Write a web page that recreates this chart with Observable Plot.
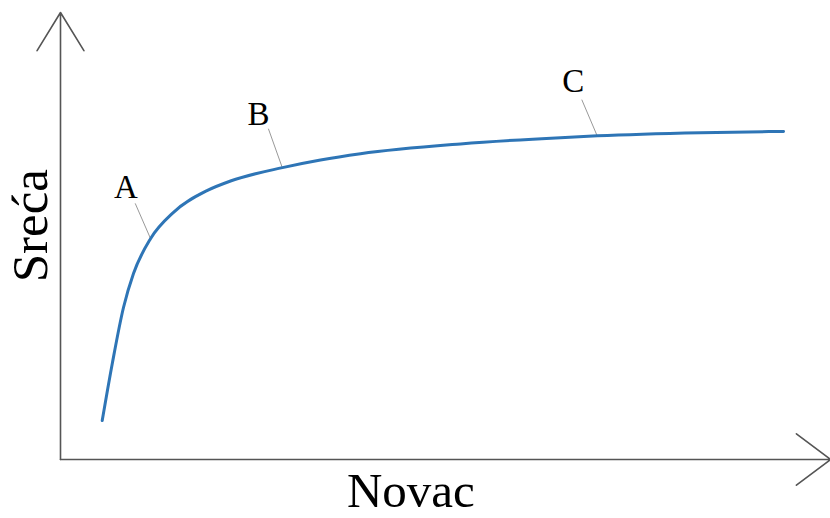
<!DOCTYPE html>
<html>
<head>
<meta charset="utf-8">
<script src="https://cdn.jsdelivr.net/npm/d3@7"></script>
<script src="https://cdn.jsdelivr.net/npm/@observablehq/plot@0.6"></script>
<style>
  html, body { margin: 0; padding: 0; background: #fff; }
</style>
</head>
<body>
<div id="chart"></div>
<script>
// Curve: money (x) vs. happiness (y), abstract units 0–100
const novac = [5.42, 6.75, 8.18, 9.48, 11.69, 14.68, 19.09, 22.08, 28.83, 33.77, 38.96, 51.95, 64.94, 69.74, 83.12, 93.9];
const sreca = [8.72, 21.7, 34.0, 41.6, 49.4, 55.3, 60.2, 62.3, 65.3, 67.0, 68.4, 70.6, 72.0, 72.4, 73.1, 73.4];

// Point labels with leader lines
const labelNames = ["A", "B", "C"];
const labelX = [8.5, 25.7, 66.6];
const labelY = [60.8, 77.2, 84.6];
const leadFromX = [9.7, 27.0, 67.7];
const leadFromY = [57.3, 74.0, 80.5];
const leadToX = [11.7, 28.8, 69.7];
const leadToY = [49.4, 65.3, 72.4];

const xTitle = "Novac";
const yTitle = "Sreća";

const curve = novac.map((x, i) => ({x, y: sreca[i]}));
const labels = labelNames.map((name, i) => ({
  name, x: labelX[i], y: labelY[i],
  x1: leadFromX[i], y1: leadFromY[i], x2: leadToX[i], y2: leadToY[i]
}));

const font = "'Liberation Serif', 'Times New Roman', serif";

const chart = Plot.plot({
  width: 830,
  height: 518,
  marginLeft: 60,
  marginRight: 0,
  marginTop: 12,
  marginBottom: 59,
  x: {domain: [0, 100], axis: null},
  y: {domain: [0, 100], axis: null},
  style: {fontFamily: font, background: "#fff"},
  marks: [
    // axes with open arrowheads
    Plot.arrow([{x1: 0, y1: 0, x2: 0, y2: 100}], {
      x1: "x1", y1: "y1", x2: "x2", y2: "y2",
      stroke: "#555", strokeWidth: 1.6, headLength: 42, headAngle: 63, bend: 0
    }),
    Plot.arrow([{x1: 0, y1: 0, x2: 100, y2: 0}], {
      x1: "x1", y1: "y1", x2: "x2", y2: "y2",
      stroke: "#555", strokeWidth: 1.6, headLength: 40, headAngle: 74, bend: 0
    }),
    // leader lines
    Plot.link(labels, {x1: "x1", y1: "y1", x2: "x2", y2: "y2", stroke: "#999", strokeWidth: 1}),
    // curve
    Plot.line(curve, {x: "x", y: "y", stroke: "#2E75B6", strokeWidth: 3, curve: "monotone-x"}),
    // point labels
    Plot.text(labels, {x: "x", y: "y", text: "name", fontSize: 33, fill: "#000", fontFamily: font}),
    // axis titles
    Plot.text([xTitle], {x: 45.5, frameAnchor: "bottom", dy: 47, lineAnchor: "bottom", fontSize: 49, fill: "#000", fontFamily: font}),
    Plot.text([yTitle], {y: 52.3, frameAnchor: "left", dx: -14, rotate: -90, textAnchor: "middle", lineAnchor: "bottom", fontSize: 51, fill: "#000", fontFamily: font})
  ]
});

document.getElementById("chart").appendChild(chart);
</script>
</body>
</html>
